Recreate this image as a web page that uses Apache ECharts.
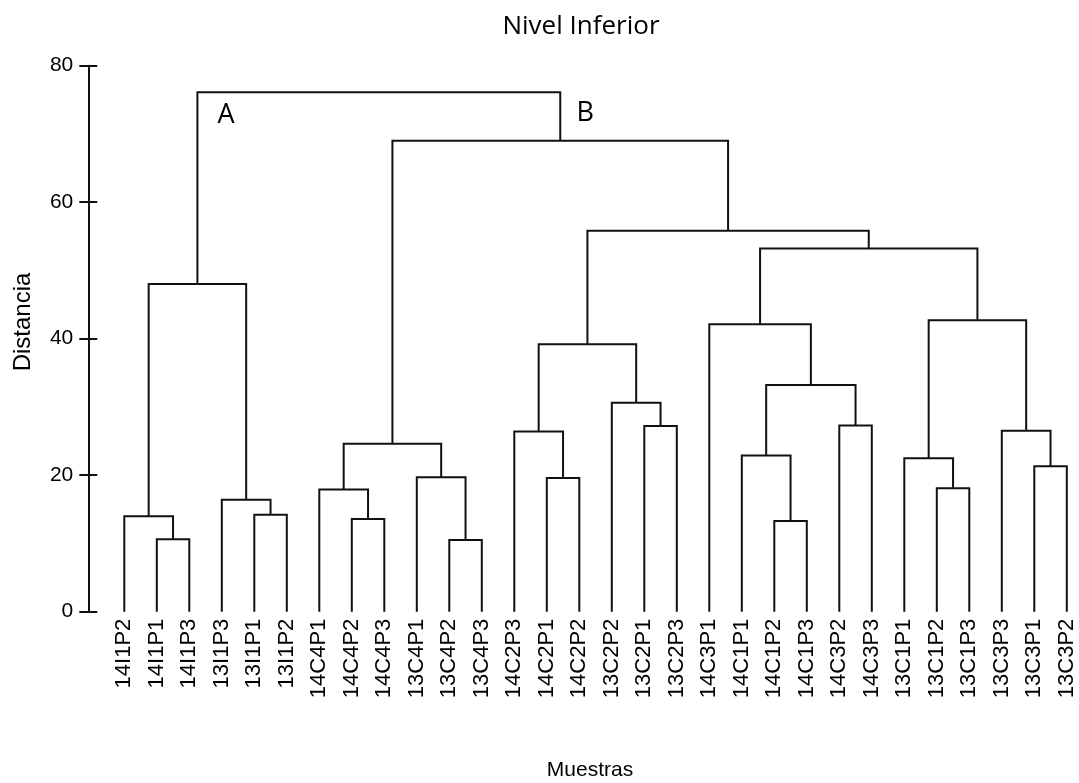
<!DOCTYPE html>
<html>
<head>
<meta charset="utf-8">
<script src="https://cdn.jsdelivr.net/npm/echarts@6/dist/echarts.min.js"></script>
<style>
html,body{margin:0;padding:0;background:#fff;}
#chart{width:1079px;height:783px;}
</style>
</head>
<body>
<div id="chart"></div>
<script>
// Leaf labels in plotted order
const leaves = ['14I1P2','14I1P1','14I1P3','13I1P3','13I1P1','13I1P2',
  '14C4P1','14C4P2','14C4P3','13C4P1','13C4P2','13C4P3',
  '14C2P3','14C2P1','14C2P2','13C2P2','13C2P1','13C2P3',
  '14C3P1','14C1P1','14C1P2','14C1P3','14C3P2','14C3P3',
  '13C1P1','13C1P2','13C1P3','13C3P3','13C3P1','13C3P2'];
// hclust-style merge table: negative = leaf (1-based), positive = earlier merge row (1-based)
const mergeA = [-2,-11,-21,-8,-1,-5,-4,-7,-26,-14,-10,-29,-25,-20,8,-13,-28,-17,-23,-16,14,16,-19,13,5,23,22,15,25];
const mergeB = [-3,-12,-22,-9,1,-6,6,4,-27,-15,2,-30,9,3,11,10,12,-18,-24,18,19,20,21,17,7,24,26,27,28];
const mergeHeight = [10.6,10.5,13.3,13.6,14.0,14.2,16.4,17.9,18.1,19.6,19.7,21.3,22.5,22.9,24.6,26.4,26.5,27.2,27.3,30.6,33.2,39.2,42.1,42.7,48.0,53.2,55.8,69.0,76.1];
const yTicks = [0, 20, 40, 60, 80];
const groupLabels = ['A', 'B'];
const groupLabelPos = [[3.13, 72.7], [14.18, 73.0]];

// Build segments from merge table
const nodeX = [], nodeH = [];
const segs = [];
function childInfo(c) {
  if (c < 0) return [-c - 1, 0];
  return [nodeX[c - 1], nodeH[c - 1]];
}
for (let i = 0; i < mergeA.length; i++) {
  const a = childInfo(mergeA[i]);
  const b = childInfo(mergeB[i]);
  const h = mergeHeight[i];
  nodeX.push((a[0] + b[0]) / 2);
  nodeH.push(h);
  segs.push([a[0], a[1], b[0], b[1], h]);
}

const chart = echarts.init(document.getElementById('chart'), null, {renderer: 'canvas'});
const lineColor = '#111111';
const FONT = '"Liberation Sans", Arial, sans-serif';
chart.setOption({
  animation: false,
  backgroundColor: '#ffffff',
  title: {
    text: 'Nivel Inferior',
    left: 576, top: 9, textAlign: 'center',
    textStyle: {fontFamily: '"Open Sans", sans-serif', fontSize: 26, fontWeight: 'normal', color: '#000'}
  },
  grid: {left: 124.3, right: 12.2, top: 65.7, bottom: 171.3, containLabel: false},
  xAxis: {
    type: 'value', min: 0, max: leaves.length - 1, interval: 1,
    axisLine: {show: false, onZero: false}, axisTick: {show: false}, splitLine: {show: false},
    axisLabel: {
      rotate: 90, margin: 7, fontFamily: FONT, fontSize: 22, color: '#000',
      formatter: v => leaves[v] || ''
    }
  },
  yAxis: [{
    type: 'value', min: yTicks[0], max: yTicks[yTicks.length - 1], interval: 20,
    offset: 36, position: 'left',
    axisLine: {show: true, onZero: false, lineStyle: {color: lineColor, width: 2}},
    axisTick: {show: true, inside: false, length: 9, lineStyle: {color: lineColor, width: 2}},
    axisLabel: {margin: 15, fontFamily: FONT, fontSize: 21, color: '#000'},
    splitLine: {show: false}
  }, {
    type: 'value', min: yTicks[0], max: yTicks[yTicks.length - 1], interval: 20,
    offset: 36, position: 'left',
    axisLine: {show: false, onZero: false},
    axisTick: {show: true, inside: true, length: 9, lineStyle: {color: lineColor, width: 2}},
    axisLabel: {show: false},
    splitLine: {show: false}
  }],
  graphic: [
    {type: 'text', x: 23, y: 322, rotation: Math.PI / 2,
     style: {text: 'Distancia', font: '24px ' + FONT, fill: '#000', textAlign: 'center', textVerticalAlign: 'middle'}},
    {type: 'text', x: 590, y: 770,
     style: {text: 'Muestras', font: '21px ' + FONT, fill: '#000', textAlign: 'center', textVerticalAlign: 'middle'}}
  ],
  series: [{
    type: 'custom',
    data: segs,
    clip: false,
    renderItem: function (params, api) {
      const p1 = api.coord([api.value(0), api.value(1)]);
      const p2 = api.coord([api.value(0), api.value(4)]);
      const p3 = api.coord([api.value(2), api.value(4)]);
      const p4 = api.coord([api.value(2), api.value(3)]);
      return {
        type: 'polyline',
        shape: {points: [p1, p2, p3, p4]},
        style: {stroke: lineColor, lineWidth: 2, fill: null, lineJoin: 'miter'}
      };
    },
    encode: {x: [0, 2], y: [1, 3, 4]}
  }, {
    type: 'scatter',
    symbolSize: 0,
    data: groupLabelPos.map((p, i) => ({value: p, name: groupLabels[i]})),
    label: {
      show: true, position: 'inside', formatter: '{b}', opacity: 1,
      fontFamily: '"Open Sans", sans-serif', fontSize: 27, color: '#000'
    },
    silent: true
  }]
});
</script>
</body>
</html>
